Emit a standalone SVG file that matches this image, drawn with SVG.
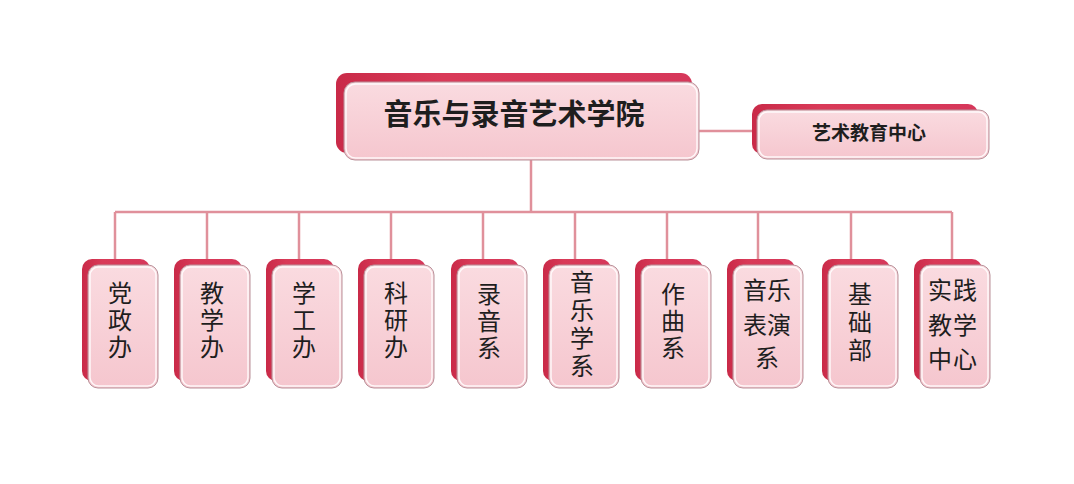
<svg xmlns="http://www.w3.org/2000/svg" width="1074" height="484" viewBox="0 0 1074 484">
<defs>
<linearGradient id="gBack" x1="0" y1="0" x2="1" y2="0">
<stop offset="0" stop-color="#c92a48"/>
<stop offset="0.3" stop-color="#d93a58"/>
<stop offset="1" stop-color="#d6375a"/>
</linearGradient>
<linearGradient id="gFront" x1="0" y1="0" x2="0" y2="1">
<stop offset="0" stop-color="#fadbe0"/>
<stop offset="1" stop-color="#f5c6ce"/>
</linearGradient>
</defs>
<style>
.back{fill:url(#gBack);}
.front{fill:url(#gFront);stroke:#b9929a;stroke-width:1;}
.inner{fill:none;stroke:#ffffff;stroke-width:1.5;opacity:0.85;}
.conn{stroke:#e0909b;stroke-width:2.5;fill:none;}
.t{font-family:"Liberation Serif","Noto Sans CJK SC",serif;fill:#1e1e1e;text-anchor:middle;dominant-baseline:central;}
.c{font-size:24px;}
.title{font-size:29px;font-weight:bold;}
.sub{font-size:19px;font-weight:bold;}
</style>
<rect width="1074" height="484" fill="#ffffff"/>
<g id="connectors">
<line class="conn" x1="531" y1="160" x2="531" y2="212"/>
<line class="conn" x1="699" y1="131" x2="753" y2="131"/>
<line class="conn" x1="115" y1="212" x2="952" y2="212"/>
<line class="conn" x1="115" y1="212" x2="115" y2="260"/>
<line class="conn" x1="207" y1="212" x2="207" y2="260"/>
<line class="conn" x1="299" y1="212" x2="299" y2="260"/>
<line class="conn" x1="391" y1="212" x2="391" y2="260"/>
<line class="conn" x1="483" y1="212" x2="483" y2="260"/>
<line class="conn" x1="575" y1="212" x2="575" y2="260"/>
<line class="conn" x1="667" y1="212" x2="667" y2="260"/>
<line class="conn" x1="758" y1="212" x2="758" y2="260"/>
<line class="conn" x1="851" y1="212" x2="851" y2="260"/>
<line class="conn" x1="952" y1="212" x2="952" y2="260"/>
</g>
<g id="root">
<rect class="back" x="336" y="73" width="356" height="80" rx="11"/>
<rect class="front" x="344" y="82" width="355" height="78" rx="11"/>
<rect class="inner" x="346" y="84" width="351" height="74" rx="9.5"/>
<text class="t title" x="514" y="115">音乐与录音艺术学院</text>
</g>
<g id="art-edu">
<rect class="back" x="752" y="104" width="226" height="50" rx="10"/>
<rect class="front" x="757" y="110" width="232" height="49" rx="10"/>
<rect class="inner" x="759" y="112" width="228" height="45" rx="8.5"/>
<text class="t sub" x="869" y="133">艺术教育中心</text>
</g>
<g id="n1">
<rect class="back" x="82" y="259" width="68" height="122" rx="10"/>
<rect class="front" x="88" y="265" width="70" height="123" rx="10"/>
<rect class="inner" x="90" y="267" width="66" height="119" rx="8.5"/>
<text class="t c" x="120"><tspan x="120" y="294">党</tspan><tspan x="120" y="321">政</tspan><tspan x="120" y="348">办</tspan></text>
</g>
<g id="n2">
<rect class="back" x="174" y="259" width="68" height="122" rx="10"/>
<rect class="front" x="180" y="265" width="70" height="123" rx="10"/>
<rect class="inner" x="182" y="267" width="66" height="119" rx="8.5"/>
<text class="t c" x="212"><tspan x="212" y="294">教</tspan><tspan x="212" y="321">学</tspan><tspan x="212" y="348">办</tspan></text>
</g>
<g id="n3">
<rect class="back" x="266" y="259" width="68" height="122" rx="10"/>
<rect class="front" x="272" y="265" width="70" height="123" rx="10"/>
<rect class="inner" x="274" y="267" width="66" height="119" rx="8.5"/>
<text class="t c" x="304"><tspan x="304" y="294">学</tspan><tspan x="304" y="321">工</tspan><tspan x="304" y="348">办</tspan></text>
</g>
<g id="n4">
<rect class="back" x="358" y="259" width="68" height="122" rx="10"/>
<rect class="front" x="364" y="265" width="70" height="123" rx="10"/>
<rect class="inner" x="366" y="267" width="66" height="119" rx="8.5"/>
<text class="t c" x="396"><tspan x="396" y="294">科</tspan><tspan x="396" y="321">研</tspan><tspan x="396" y="348">办</tspan></text>
</g>
<g id="n5">
<rect class="back" x="451" y="259" width="68" height="122" rx="10"/>
<rect class="front" x="457" y="265" width="70" height="123" rx="10"/>
<rect class="inner" x="459" y="267" width="66" height="119" rx="8.5"/>
<text class="t c" x="489"><tspan x="489" y="295">录</tspan><tspan x="489" y="322">音</tspan><tspan x="489" y="349">系</tspan></text>
</g>
<g id="n6">
<rect class="back" x="543" y="259" width="68" height="122" rx="10"/>
<rect class="front" x="549" y="265" width="70" height="123" rx="10"/>
<rect class="inner" x="551" y="267" width="66" height="119" rx="8.5"/>
<text class="t c" x="582"><tspan x="582" y="283">音</tspan><tspan x="582" y="311">乐</tspan><tspan x="582" y="339">学</tspan><tspan x="582" y="367">系</tspan></text>
</g>
<g id="n7">
<rect class="back" x="635" y="259" width="68" height="122" rx="10"/>
<rect class="front" x="641" y="265" width="70" height="123" rx="10"/>
<rect class="inner" x="643" y="267" width="66" height="119" rx="8.5"/>
<text class="t c" x="673"><tspan x="673" y="295">作</tspan><tspan x="673" y="322">曲</tspan><tspan x="673" y="349">系</tspan></text>
</g>
<g id="n8">
<rect class="back" x="727" y="259" width="68" height="122" rx="10"/>
<rect class="front" x="733" y="265" width="70" height="123" rx="10"/>
<rect class="inner" x="735" y="267" width="66" height="119" rx="8.5"/>
<text class="t c"><tspan x="755" y="291">音</tspan><tspan x="779" y="291">乐</tspan><tspan x="755" y="326">表</tspan><tspan x="779" y="326">演</tspan><tspan x="767" y="359">系</tspan></text>
</g>
<g id="n9">
<rect class="back" x="822" y="259" width="68" height="122" rx="10"/>
<rect class="front" x="828" y="265" width="70" height="123" rx="10"/>
<rect class="inner" x="830" y="267" width="66" height="119" rx="8.5"/>
<text class="t c" x="860"><tspan x="860" y="295">基</tspan><tspan x="860" y="323">础</tspan><tspan x="860" y="351">部</tspan></text>
</g>
<g id="n10">
<rect class="back" x="914" y="259" width="68" height="122" rx="10"/>
<rect class="front" x="920" y="265" width="70" height="123" rx="10"/>
<rect class="inner" x="922" y="267" width="66" height="119" rx="8.5"/>
<text class="t c"><tspan x="940" y="291">实</tspan><tspan x="965" y="291">践</tspan><tspan x="940" y="326">教</tspan><tspan x="965" y="326">学</tspan><tspan x="940" y="360">中</tspan><tspan x="965" y="360">心</tspan></text>
</g>
</svg>
